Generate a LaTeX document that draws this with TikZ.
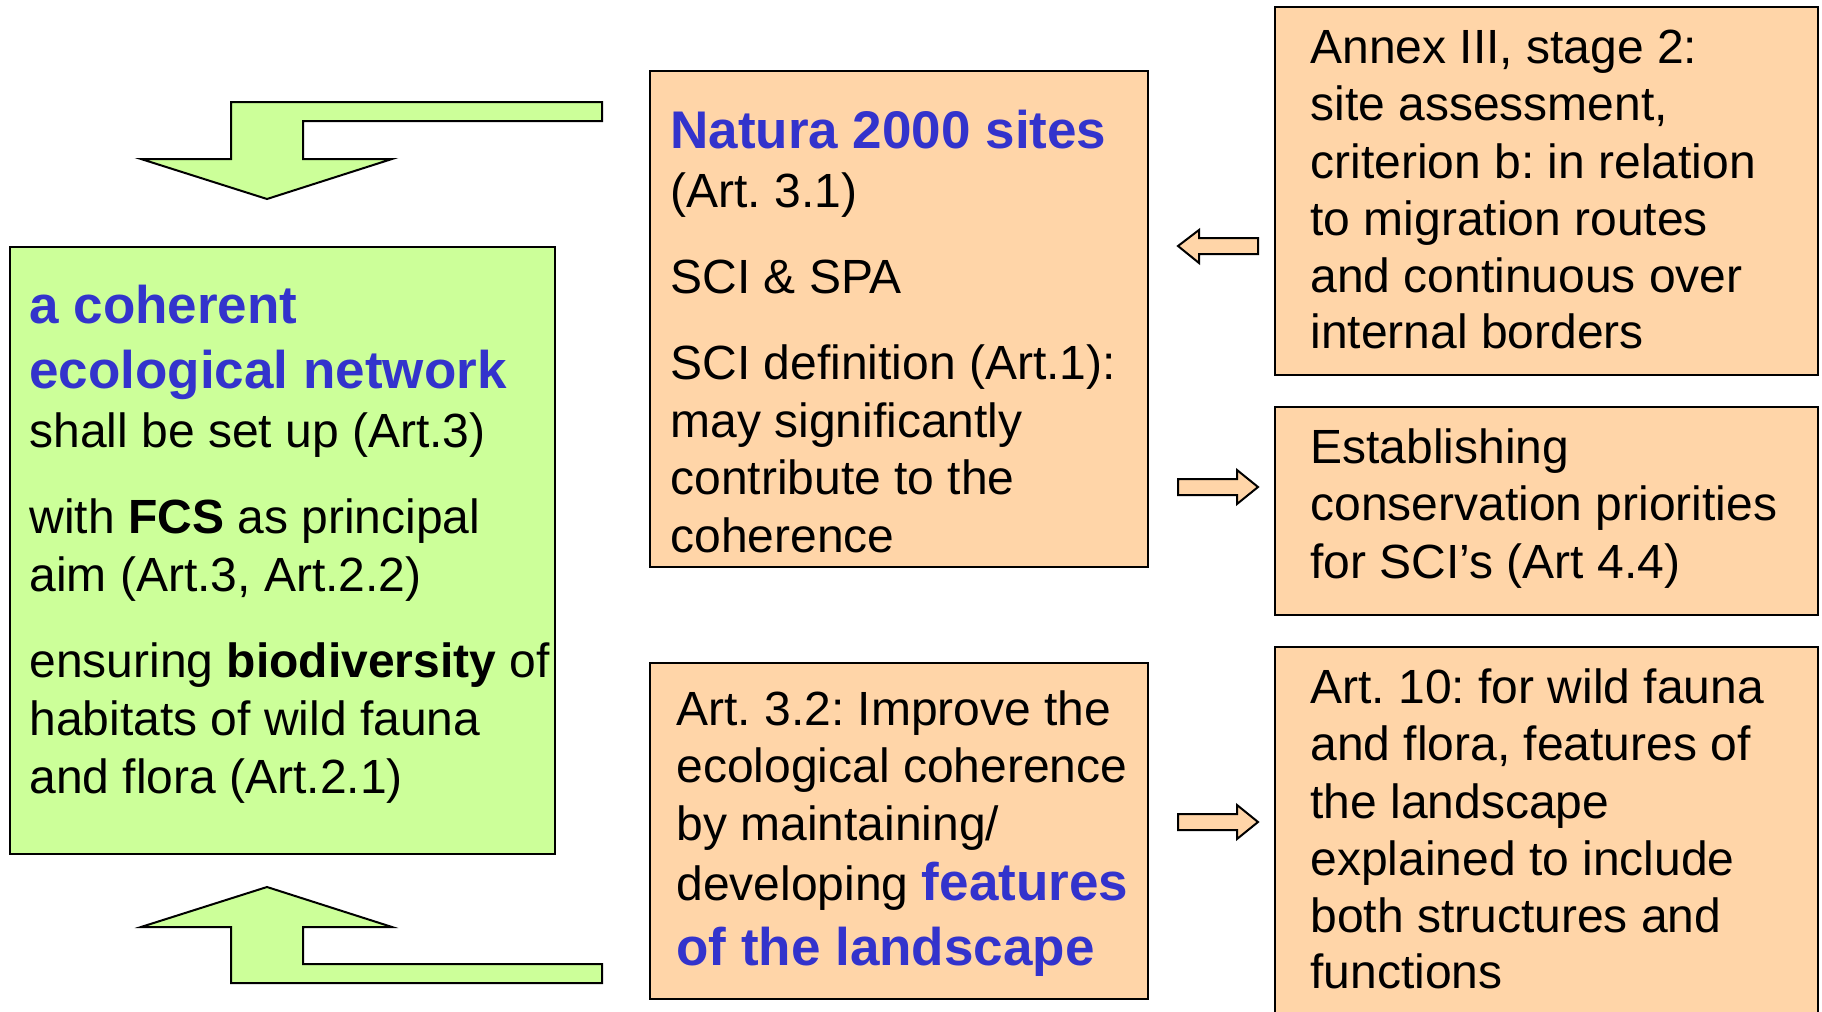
\documentclass[tikz,border=0pt]{standalone}
\usepackage{fontspec}
\setmainfont{Liberation Sans}
\frenchspacing
\definecolor{boxgreen}{HTML}{CCFF99}
\definecolor{boxpeach}{HTML}{FFD5A8}
\definecolor{headblue}{HTML}{3333CC}
\tikzset{
  gbox/.style={draw=black, line width=1.4pt, fill=boxgreen},
  pbox/.style={draw=black, line width=1.4pt, fill=boxpeach},
  txtline/.style={anchor=base west, inner sep=0pt, font=\fontsize{24}{28}\selectfont\frenchspacing},
  headline/.style={anchor=base west, inner sep=0pt, font=\fontsize{26.5}{32}\selectfont\bfseries, text=headblue},
  garrow/.style={draw=black, line width=1pt, fill=boxgreen, line join=miter},
  parrow/.style={draw=black, line width=1pt, fill=boxpeach, line join=miter}
}
\newcommand{\hl}[1]{{\fontsize{26.5}{32}\selectfont\bfseries\color{headblue}#1}}
\begin{document}
\begin{tikzpicture}[x=0.5pt, y=-0.5pt]
\useasboundingbox (0,0) rectangle (1822,1012);
\fill[white] (0,0) rectangle (1822,1012);

% big green arrows
\draw[garrow] (602,102) -- (231,102) -- (231,159) -- (141,159) -- (267,199) -- (392,159) -- (303,159) -- (303,121) -- (602,121) -- cycle;
\draw[garrow] (602,983) -- (231,983) -- (231,927) -- (141,927) -- (267,887) -- (392,927) -- (303,927) -- (303,964) -- (602,964) -- cycle;

% boxes
\draw[gbox] (10,247) rectangle (555,854);
\draw[pbox] (650,71) rectangle (1148,567);
\draw[pbox] (650,663) rectangle (1148,999);
\draw[pbox] (1275,7) rectangle (1818,375);
\draw[pbox] (1275,407) rectangle (1818,615);
\draw[pbox] (1275,647) rectangle (1818,1040);

% small arrows
\draw[parrow] (1178,246) -- (1199,230) -- (1199,238) -- (1258,238) -- (1258,254) -- (1199,254) -- (1199,263) -- cycle;
\draw[parrow] (1258,487) -- (1237,470) -- (1237,479) -- (1178,479) -- (1178,495) -- (1237,495) -- (1237,504) -- cycle;
\draw[parrow] (1258,822) -- (1237,805) -- (1237,814) -- (1178,814) -- (1178,830) -- (1237,830) -- (1237,839) -- cycle;

% green box text
\node (g1) [headline] at (29,323) {a coherent};
\node (g2) [headline] at (29,388) {ecological network};
\node (g3) [txtline] at (29,447) {shall be set up (Art.3)};
\node (g4) [txtline] at (29,533) {with \textbf{FCS} as principal};
\node (g5) [txtline] at (29,591) {aim (Art.3, Art.2.2)};
\node (g6) [txtline] at (29,677) {ensuring \textbf{biodiversity} of};
\node (g7) [txtline] at (29,735) {habitats of wild fauna};
\node (g8) [txtline] at (29,793) {and flora (Art.2.1)};

% middle top box text
\node (m1) [headline] at (670,148) {Natura 2000 sites};
\node (m2) [txtline] at (670,207) {(Art. 3.1)};
\node (m3) [txtline] at (670,293) {SCI \& SPA};
\node (m4) [txtline] at (670,379) {SCI definition (Art.1):};
\node (m5) [txtline] at (670,437) {may significantly};
\node (m6) [txtline] at (670,494) {contribute to the};
\node (m7) [txtline] at (670,552) {coherence};

% middle bottom box text
\node (b1) [txtline] at (676,725) {Art. 3.2: Improve the};
\node (b2) [txtline] at (676,782) {ecological coherence};
\node (b3) [txtline] at (676,840) {by maintaining/};
\node (b4) [txtline] at (676,900) {developing \hl{features}};
\node (b5) [headline] at (676,965) {of the landscape};

% right top box text
\node (r1) [txtline] at (1310,63) {Annex III, stage 2:};
\node (r2) [txtline] at (1310,120) {site assessment,};
\node (r3) [txtline] at (1310,178) {criterion b: in relation};
\node (r4) [txtline] at (1310,235) {to migration routes};
\node (r5) [txtline] at (1310,292) {and continuous over};
\node (r6) [txtline] at (1310,348) {internal borders};

% right middle box text
\node (s1) [txtline] at (1310,463) {Establishing};
\node (s2) [txtline] at (1310,520) {conservation priorities};
\node (s3) [txtline] at (1310,578) {for SCI’s (Art 4.4)};

% right bottom box text
\node (t1) [txtline] at (1310,703) {Art. 10: for wild fauna};
\node (t2) [txtline] at (1310,760) {and flora, features of};
\node (t3) [txtline] at (1310,818) {the landscape};
\node (t4) [txtline] at (1310,875) {explained to include};
\node (t5) [txtline] at (1310,932) {both structures and};
\node (t6) [txtline] at (1310,988) {functions};
\end{tikzpicture}
\end{document}
